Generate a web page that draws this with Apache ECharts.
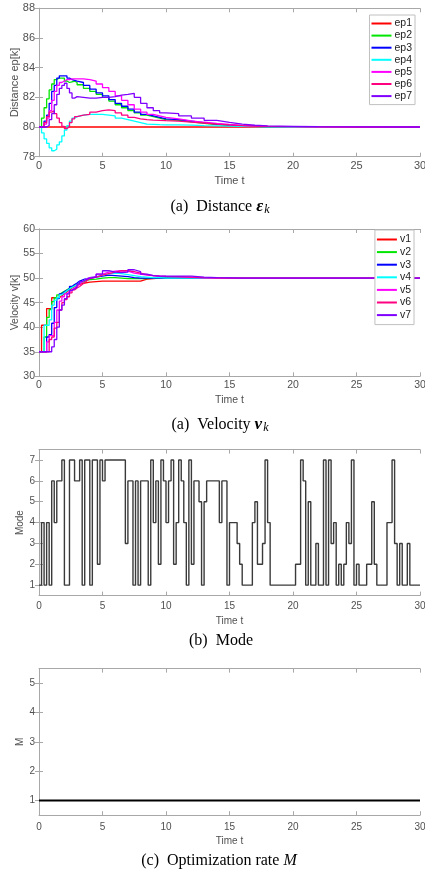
<!DOCTYPE html>
<html><head><meta charset="utf-8">
<script src="https://cdn.jsdelivr.net/npm/echarts@6/dist/echarts.min.js"></script>
<style>html,body{margin:0;padding:0;background:#fff}#c{width:425px;height:878px}</style>
</head><body><div id="c"></div>
<script>
// ---------- Distance ----------
const tD = [0,0.2,0.4,0.6,0.8,1.0,1.2,1.4,1.6,1.8,2.0,2.2,2.4,2.6,2.8,3.0,
  3.5,4,4.5,5,5.5,6,6.5,7,7.5,8,8.5,9,9.5,10,
  11,12,13,14,15,16,17,18,20,22,25,30];
const ep1 = [80,80,80,80,80,80,80,80,80,80,80,80,80,80,80,80,
  80,80,80,80,80,80,80,80,80,80,80,80,80,80,
  80,80,80,80,80,80,80,80,80,80,80,80];
const ep2 = [80,80.6,81.3,81.9,82.5,82.9,83.2,83.3,83.3,83.3,83.1,83.0,83.05,83.1,83.0,82.85,
  82.6,82.4,82.2,82.0,81.75,81.5,81.3,81.1,80.95,80.8,80.7,80.6,80.5,80.45,
  80.35,80.25,80.17,80.1,80.06,80.04,80.02,80.01,80,80,80,80];
const ep3 = [80,80,80.4,80.8,81.6,82.4,82.8,83.3,83.45,83.45,83.45,83.3,83.2,83.15,83.1,83.0,
  82.8,82.55,82.3,82.1,81.85,81.6,81.4,81.2,81.0,80.85,80.75,80.65,80.55,80.5,
  80.4,80.3,80.2,80.13,80.08,80.05,80.03,80.02,80.01,80,80,80];
const ep4 = [80,79.6,79.2,78.9,78.6,78.4,78.5,78.8,79.0,79.4,79.8,80.1,80.4,80.6,80.7,80.8,
  80.85,80.85,80.85,80.8,80.75,80.6,80.5,80.4,80.3,80.2,80.18,80.16,80.15,80.15,
  80.13,80.1,80.08,80.06,80.04,80.02,80.01,80,80,80,80,80];
const ep5 = [80,80,80.2,80.6,81.1,81.8,82.4,82.8,83.0,83.1,83.2,83.2,83.25,83.25,83.25,83.25,
  83.2,83.1,82.9,82.65,82.4,82.1,81.8,81.5,81.2,81.0,80.85,80.75,80.65,80.55,
  80.42,80.32,80.24,80.17,80.11,80.07,80.04,80.02,80.01,80,80,80];
const ep6 = [80,80,80.3,80.7,81.0,81.1,80.9,80.6,80.3,80.05,79.9,80.0,80.3,80.55,80.7,80.8,
  80.85,81.0,81.1,81.15,81.1,80.95,80.8,80.65,80.55,80.5,80.47,80.45,80.43,80.4,
  80.33,80.27,80.2,80.14,80.1,80.07,80.05,80.03,80.01,80,80,80];
const ep7 = [80,80,80,80.1,80.5,80.9,81.5,82.2,82.6,82.8,82.95,82.6,82.3,81.95,82.05,82.0,
  81.95,81.95,82.0,82.0,82.05,82.15,82.2,82.27,82.0,81.6,81.3,81.1,80.95,80.9,
  80.75,80.6,80.45,80.32,80.2,80.12,80.08,80.05,80.02,80.01,80,80];

// ---------- Velocity ----------
const tV = [0,0.2,0.4,0.6,0.8,1.0,1.2,1.4,1.6,1.8,2.0,2.2,2.4,2.6,2.8,3.0,3.2,3.4,3.6,3.8,4.0,
  4.5,5,5.5,6,6.5,7,7.5,8,8.5,9,9.5,10,
  11,12,13,14,15,16,20,30];
const v1 = [35,40.4,40.4,43.8,43.8,46.0,46.0,46.0,46.4,46.8,47.2,47.6,48.0,48.3,48.5,48.7,48.9,49.0,49.1,49.2,49.3,
  49.4,49.4,49.4,49.4,49.4,49.4,49.4,49.8,49.9,50.0,50.0,50.0,
  50,50,50,50,50,50,50,50];
const v2 = [35,35,38.0,42.0,43.6,45.2,46.0,46.6,47.0,47.3,47.6,47.9,48.2,48.5,48.8,49.0,49.2,49.4,49.6,49.7,49.8,
  50.0,50.1,50.1,50.0,49.9,49.9,49.9,49.9,50.0,50.0,50.0,50.0,
  50,50,50,50,50,50,50,50];
const v3 = [35,35,35,38.0,38.5,40.8,44.0,45.8,46.8,47.2,47.5,47.8,48.3,48.7,49.0,49.4,49.6,49.8,49.9,50.0,50.2,
  50.4,50.6,50.5,50.4,50.3,50.1,50.0,50.0,50.0,50.0,50.0,50.0,
  50,50,50,50,50,50,50,50];
const v4 = [35,35,40.4,40.4,41.5,44.5,45.5,46.0,46.6,47.0,47.4,47.8,48.1,48.4,48.7,49.0,49.3,49.6,49.9,50.1,50.3,
  50.6,50.9,51.0,50.9,50.7,50.5,50.3,50.2,50.1,50.1,50.0,50.0,
  50,50,50,50,50,50,50,50];
const v5 = [35,35,35,37.0,38.3,38.3,41.0,43.5,45.3,46.2,46.8,47.2,47.6,48.0,48.4,48.8,49.2,49.6,49.9,50.1,50.3,
  50.8,51.2,51.4,51.5,51.4,51.0,50.8,50.6,50.5,50.4,50.35,50.3,
  50.15,50.05,50,50,50,50,50,50];
const v6 = [35,35,35,35,37.5,38.0,39.8,41.0,43.5,45.0,45.6,46.2,47.0,47.6,48.0,48.3,48.7,49.1,49.5,49.9,50.2,
  50.6,50.9,51.2,51.5,51.5,51.3,51.0,50.7,50.5,50.4,50.35,50.3,
  50.2,50.1,50.05,50,50,50,50,50];
const v7 = [35,35,35,35,35,36.0,37.5,40.0,43.5,44.5,45.8,46.8,47.5,47.8,48.2,48.8,49.3,49.6,49.8,50.0,50.2,
  50.8,51.5,51.2,51.1,51.2,51.7,51.3,50.8,50.5,50.4,50.4,50.4,
  50.4,50.2,50.1,50.05,50,50,50,50];

// ---------- Mode ----------
const modeT = [0,0.2,0.4,0.6,0.8,1.0,1.2,1.4,1.8,2.0,
  2.4,2.8,3.2,3.4,3.6,4.0,4.2,4.6,4.8,5.0,
  5.2,6.8,7.0,7.4,7.6,7.8,8.0,8.6,8.8,9.0,
  9.2,9.4,9.6,9.8,10.0,10.2,10.4,10.6,10.8,11.0,
  11.2,11.4,11.6,11.8,12.0,12.2,12.6,12.8,13.0,13.2,
  14.2,14.4,14.8,15.0,15.6,15.8,16.0,16.8,17.0,17.2,
  17.6,17.8,18.0,18.2,20.2,20.6,20.8,21.0,21.2,21.4,
  21.8,22.0,22.4,22.6,22.8,23.0,23.2,23.4,23.6,23.8,
  24.0,24.2,24.4,24.6,24.8,25.0,25.2,25.8,26.2,26.4,
  26.6,27.4,27.8,28.0,28.2,28.4,28.6,29.0,29.2,30];
const modeV = [1,4,1,4,1,6,4,6,7,1,
  7,6,7,1,7,1,7,2,7,6,
  7,3,6,1,6,1,6,1,7,4,
  6,2,7,6,4,6,7,2,4,7,
  6,4,1,7,2,6,5,1,5,6,
  4,6,1,4,3,2,1,4,5,2,
  3,7,4,1,2,7,6,1,5,1,
  3,1,7,1,7,3,4,1,2,1,
  2,4,3,7,1,2,1,2,5,2,
  1,4,7,3,1,3,1,3,1,1];
const modeTicks = [1,2,3,4,5,6,7];

// ---------- Optimization rate M ----------
const mT = [0,30];
const mV = [1,1];
const mTicks = [1,2,3,4,5];

const epNames = ['ep1','ep2','ep3','ep4','ep5','ep6','ep7'];
const vNames = ['v1','v2','v3','v4','v5','v6','v7'];
const colors = ['#ff0000','#00e600','#0000ff','#00ffff','#ff00ff','#ff0080','#8000ff'];

const zip = (t, v) => t.map((x, i) => [x, v[i]]);

const AX = '#a8a8a8';
const LBL = '#505050';
const FONT = 'Liberation Sans';

const grids = [
  {left:39, width:381, top:8.3, height:148.4},
  {left:39, width:381, top:229, height:147.3},
  {left:39, width:381, top:449.6, height:146},
  {left:39, width:381, top:668.6, height:146.6}
].map(g => Object.assign(g, {containLabel:false, outerBoundsMode:'none'}));

const yCfg = [
  {min:78, max:88, interval:2, name:'Distance ep[k]', nameGap:18.5, fs:11},
  {min:30, max:60, interval:5, name:'Velocity v[k]', nameGap:18.5, fs:10.5},
  {min:0.5, max:7.5, custom:modeTicks, name:'Mode', nameGap:13.5, fs:10},
  {min:0.5, max:5.5, custom:mTicks, name:'M', nameGap:13.5, fs:10}
];
const xCfg = [
  {nameGap:18.5, margin:4, fs:11},
  {nameGap:18, margin:3.5, fs:10.5},
  {nameGap:21, margin:6, fs:10},
  {nameGap:21, margin:7, fs:10}
];

const xAxis = [], yAxis = [];
grids.forEach((g, i) => {
  const xc = xCfg[i], yc = yCfg[i];
  xAxis.push({
    type:'value', gridIndex:i, min:0, max:30, interval:5, position:'bottom',
    name:'Time t', nameLocation:'middle', nameGap:xc.nameGap, nameMoveOverlap:false,
    nameTextStyle:{fontFamily:FONT, fontSize:xc.fs, color:LBL},
    axisLine:{show:true, lineStyle:{color:AX, width:1}},
    axisTick:{show:true, inside:true, length:4, lineStyle:{color:AX}},
    axisLabel:{fontFamily:FONT, fontSize:xc.fs, color:LBL, margin:xc.margin},
    splitLine:{show:false}
  });
  xAxis.push({
    type:'value', gridIndex:i, min:0, max:30, interval:5, position:'top',
    axisLine:{show:true, lineStyle:{color:AX, width:1}},
    axisTick:{show:true, inside:true, length:4, lineStyle:{color:AX}},
    axisLabel:{show:false}, splitLine:{show:false}
  });
  const yl = {
    type:'value', gridIndex:i, min:yc.min, max:yc.max, position:'left',
    name:yc.name, nameLocation:'middle', nameGap:yc.nameGap, nameRotate:90, nameMoveOverlap:false,
    nameTextStyle:{fontFamily:FONT, fontSize:yc.fs, color:LBL},
    axisLine:{show:true, lineStyle:{color:AX, width:1}},
    axisTick:{show:true, inside:true, length:4, lineStyle:{color:AX}},
    axisLabel:{fontFamily:FONT, fontSize:yc.fs, color:LBL, margin:4},
    splitLine:{show:false}
  };
  const yr = {
    type:'value', gridIndex:i, min:yc.min, max:yc.max, position:'right',
    axisLine:{show:true, lineStyle:{color:AX, width:1}},
    axisTick:{show:true, inside:true, length:4, lineStyle:{color:AX}},
    axisLabel:{show:false}, splitLine:{show:false}
  };
  if (yc.custom) {
    yl.axisTick.customValues = yc.custom;
    yl.axisLabel.customValues = yc.custom;
    yr.axisTick.customValues = yc.custom;
    yr.axisLabel.customValues = yc.custom;
  } else {
    yl.interval = yc.interval; yr.interval = yc.interval;
  }
  yAxis.push(yl, yr);
});

const series = [];
const epData = [ep1,ep2,ep3,ep4,ep5,ep6,ep7];
epData.forEach((d, k) => series.push({
  type:'line', name:epNames[k], xAxisIndex:0, yAxisIndex:0, step:'end',
  symbol:'none', data:zip(tD, d), lineStyle:{width:1.3, color:colors[k]}, itemStyle:{color:colors[k]}
}));
const vData = [v1,v2,v3,v4,v5,v6,v7];
vData.forEach((d, k) => series.push({
  type:'line', name:vNames[k], xAxisIndex:2, yAxisIndex:2, step:'end',
  symbol:'none', data:zip(tV, d), lineStyle:{width:1.3, color:colors[k]}, itemStyle:{color:colors[k]}
}));
series.push({
  type:'line', name:'Mode', xAxisIndex:4, yAxisIndex:4, step:'end', symbol:'none',
  data:zip(modeT, modeV), lineStyle:{width:1.4, color:'#3a3a3a'}
});
series.push({
  type:'line', name:'M', xAxisIndex:6, yAxisIndex:6, symbol:'none',
  data:zip(mT, mV), lineStyle:{width:2, color:'#000'}
});

const legendBase = {
  orient:'vertical', icon:'rect', itemWidth:20, itemHeight:2,
  borderColor:'#c0c0c0', borderWidth:1, backgroundColor:'#fff',
  padding:[3,3,3,2],
  textStyle:{fontFamily:FONT, fontSize:10.5, color:'#222', lineHeight:10.5, padding:[0,0,0,-2]}
};

const capStyle = {
  fontFamily:'Liberation Serif', fontSize:16, fontWeight:'normal', color:'#000',
  rich:{
    it:{fontFamily:'Liberation Serif', fontSize:16, fontStyle:'italic', color:'#000'},
    b:{fontFamily:'Liberation Serif', fontSize:17, fontStyle:'italic', fontWeight:'bold', color:'#000'},
    k:{fontFamily:'Liberation Serif', fontSize:12, fontStyle:'italic', color:'#000', padding:[7,0,0,1]}
  }
};

const option = {
  animation:false,
  backgroundColor:'#fff',
  grid:grids,
  xAxis, yAxis, series,
  legend:[
    Object.assign({}, legendBase, {data:epNames, right:10, top:15, itemGap:1.1}),
    Object.assign({}, legendBase, {data:vNames, right:11, top:230, itemGap:1.6, padding:[4,3,4,2]})
  ],
  title:[
    {text:'(a)  Distance {b|ε}{k|k}', left:220, top:197, textAlign:'center', padding:0, textStyle:capStyle},
    {text:'(a)  Velocity {b|v}{k|k}', left:220, top:415, textAlign:'center', padding:0, textStyle:capStyle},
    {text:'(b)  Mode', left:221, top:633, textAlign:'center', padding:0, textStyle:capStyle},
    {text:'(c)  Optimization rate {it|M}', left:219, top:853, textAlign:'center', padding:0, textStyle:capStyle}
  ]
};

const chart = echarts.init(document.getElementById('c'), null, {renderer:'canvas'});
chart.setOption(option);
</script>
</body></html>
